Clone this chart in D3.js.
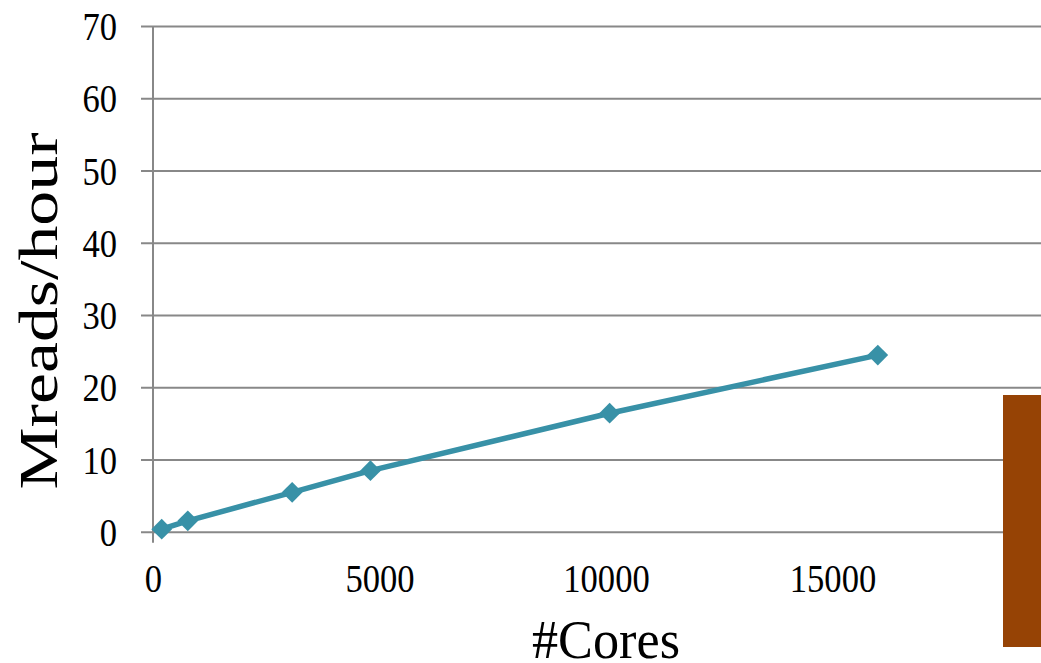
<!DOCTYPE html>
<html>
<head>
<meta charset="utf-8">
<script src="https://cdn.jsdelivr.net/npm/d3@7"></script>
<style>
  html, body { margin: 0; padding: 0; background: #fff; overflow: hidden; }
  svg { display: block; }
  text { font-family: "Liberation Serif", "DejaVu Serif", serif; fill: #000; }
</style>
</head>
<body>
<svg id="chart" width="1041" height="663"></svg>
<script>
// Throughput scaling: million reads per hour vs. number of cores
const cores = [192, 768, 3072, 4800, 10080, 16000];
const mreadsPerHour = [0.35, 1.5, 5.45, 8.45, 16.4, 24.45];
const yTicks = [0, 10, 20, 30, 40, 50, 60, 70];
const xTicks = [0, 5000, 10000, 15000];

const svg = d3.select("#chart");
const W = 1041, H = 663;

const x = d3.scaleLinear().domain([0, 20000]).range([153, 1059]);
const y = d3.scaleLinear().domain([0, 70]).range([531.7, 26]);

const gridColor = "#888888";
const lineColor = "#3891A7";
const digitW = 17.3;

// horizontal gridlines with short outward ticks
const yAxis = d3.axisLeft(y).tickValues(yTicks).tickSize(-(W + 40 - 153)).tickSizeOuter(0).tickPadding(24);
const gy = svg.append("g").attr("transform", "translate(153,0)").call(yAxis);
gy.select(".domain").remove();
gy.selectAll(".tick line")
  .attr("x1", -12)
  .attr("stroke", gridColor)
  .attr("stroke-width", 2);
gy.selectAll(".tick text")
  .attr("x", -36)
  .attr("dy", "0.35em")
  .style("font-size", "39px")
  .style("font-family", "'Liberation Serif', serif")
  .attr("lengthAdjust", "spacingAndGlyphs")
  .attr("textLength", d => String(d).length * digitW);

// vertical axis line, running a little below zero
svg.append("line")
  .attr("x1", 153).attr("x2", 153)
  .attr("y1", y(70)).attr("y2", y(0) + 11)
  .attr("stroke", gridColor).attr("stroke-width", 2);

// x tick labels
const xAxis = d3.axisBottom(x).tickValues(xTicks).tickSize(0).tickPadding(0).tickFormat(d3.format("d"));
const gx = svg.append("g").call(xAxis);
gx.select(".domain").remove();
gx.selectAll(".tick text")
  .attr("y", 592)
  .attr("dy", 0)
  .style("font-size", "39px")
  .style("font-family", "'Liberation Serif', serif")
  .attr("lengthAdjust", "spacingAndGlyphs")
  .attr("textLength", d => String(d).length * digitW);

// series line
const line = d3.line().x((d, i) => x(cores[i])).y(d => y(d));
svg.append("path")
  .datum(mreadsPerHour)
  .attr("d", line)
  .attr("fill", "none")
  .attr("stroke", lineColor)
  .attr("stroke-width", 5.5)
  .attr("stroke-linejoin", "round");

// diamond markers
const diamond = d3.symbol().type(d3.symbolSquare).size(215);
svg.append("g").selectAll("path")
  .data(mreadsPerHour)
  .join("path")
  .attr("d", diamond)
  .attr("transform", (d, i) => `translate(${x(cores[i])},${y(d)}) rotate(45)`)
  .attr("fill", lineColor);

// axis titles
svg.append("text")
  .attr("x", 606).attr("y", 658)
  .attr("text-anchor", "middle")
  .style("font-size", "54px")
  .attr("lengthAdjust", "spacingAndGlyphs")
  .attr("textLength", 148)
  .text("#Cores");

svg.append("text")
  .attr("transform", "translate(57,311) rotate(-90)")
  .attr("text-anchor", "middle")
  .style("font-size", "54px")
  .attr("lengthAdjust", "spacingAndGlyphs")
  .attr("textLength", 357)
  .text("Mreads/hour");

// overlapping brown block at the right edge
svg.append("rect")
  .attr("x", 1003).attr("y", 395)
  .attr("width", 40).attr("height", 252)
  .attr("fill", "#964305");
</script>
</body>
</html>
